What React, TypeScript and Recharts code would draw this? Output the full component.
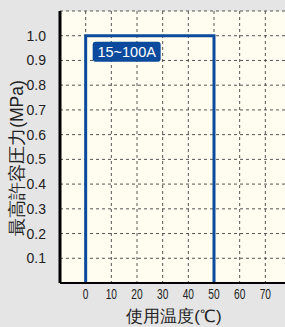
import React from 'react';
import {
  CartesianGrid,
  Line,
  LineChart,
  ReferenceDot,
  XAxis,
  YAxis,
} from 'recharts';

const tempPoints = [0, 0, 50, 50];
const pressurePoints = [0, 1.0, 1.0, 0];
const xTicks = [0, 10, 20, 30, 40, 50, 60, 70, 80];
const yTicks = [0, 0.1, 0.2, 0.3, 0.4, 0.5, 0.6, 0.7, 0.8, 0.9, 1.0, 1.1];
const sizeLabel = '15~100A';
const xLabel = '使用温度(℃)';
const yLabel = '最高許容圧力(MPa)';

const data = tempPoints.map((t, i) => ({ temp: t, pressure: pressurePoints[i] }));

const BLUE = '#0b4a9c';
const FONT = '"Liberation Sans", Arial, sans-serif';

function XTick(props: any) {
  const { x, payload } = props;
  if (payload.value > 75) return null;
  return (
    <text
      transform={`translate(${x},299) scale(0.68,1)`}
      textAnchor="middle"
      fontSize={15}
      fontFamily={FONT}
      fill="#222"
    >
      {payload.value}
    </text>
  );
}

function YTick(props: any) {
  const { x, y, payload } = props;
  const v = payload.value;
  if (v < 0.05 || v > 1.05) return null;
  return (
    <text x={x - 6} y={y + 5} textAnchor="end" fontSize={14} fontFamily={FONT} fill="#222">
      {v.toFixed(1)}
    </text>
  );
}

function Badge(props: any) {
  const { cx, cy } = props;
  return (
    <g>
      <rect x={cx + 7} y={cy + 6} width={68} height={20} rx={3} fill={BLUE} />
      <text x={cx + 41} y={cy + 21} textAnchor="middle" fontSize={14.5} fontFamily={FONT} fill="#fff">
        {sizeLabel}
      </text>
    </g>
  );
}

function XTitle() {
  return (
    <text x={174} y={322} textAnchor="middle" fontSize={17} fontFamily={FONT} fill="#222">
      {xLabel}
    </text>
  );
}

function YTitle() {
  return (
    <text
      transform="translate(23,158) rotate(-90)"
      textAnchor="middle"
      fontSize={17.5}
      fontFamily={FONT}
      fill="#222"
    >
      {yLabel}
    </text>
  );
}

export default function App() {
  return (
    <div
      style={{
        position: 'absolute',
        left: 0,
        top: 0,
        width: 285,
        height: 327,
        overflow: 'hidden',
        background: '#e5e5e5',
      }}
    >
      <LineChart
        width={292}
        height={327}
        data={data}
        margin={{ top: 11, right: 1, left: 0, bottom: 0 }}
      >
        <CartesianGrid
          stroke="#555"
          strokeDasharray="3 3"
          strokeWidth={1}
          fill="#fffdf0"
          fillOpacity={1}
        />
        <XAxis
          type="number"
          dataKey="temp"
          domain={[-10, 80]}
          ticks={xTicks}
          interval={0}
          tick={<XTick />}
          tickLine={false}
          axisLine={{ stroke: '#000', strokeWidth: 2 }}
          height={44}
          allowDataOverflow
          label={<XTitle />}
        />
        <YAxis
          type="number"
          domain={[0, 1.1]}
          ticks={yTicks}
          interval={0}
          tick={<YTick />}
          tickLine={false}
          axisLine={{ stroke: '#000', strokeWidth: 3 }}
          width={60}
          allowDataOverflow
          label={<YTitle />}
        />
        <Line
          type="linear"
          dataKey="pressure"
          stroke={BLUE}
          strokeWidth={3}
          dot={false}
          isAnimationActive={false}
        />
        <ReferenceDot x={0} y={1.0} shape={<Badge />} />
      </LineChart>
    </div>
  );
}
